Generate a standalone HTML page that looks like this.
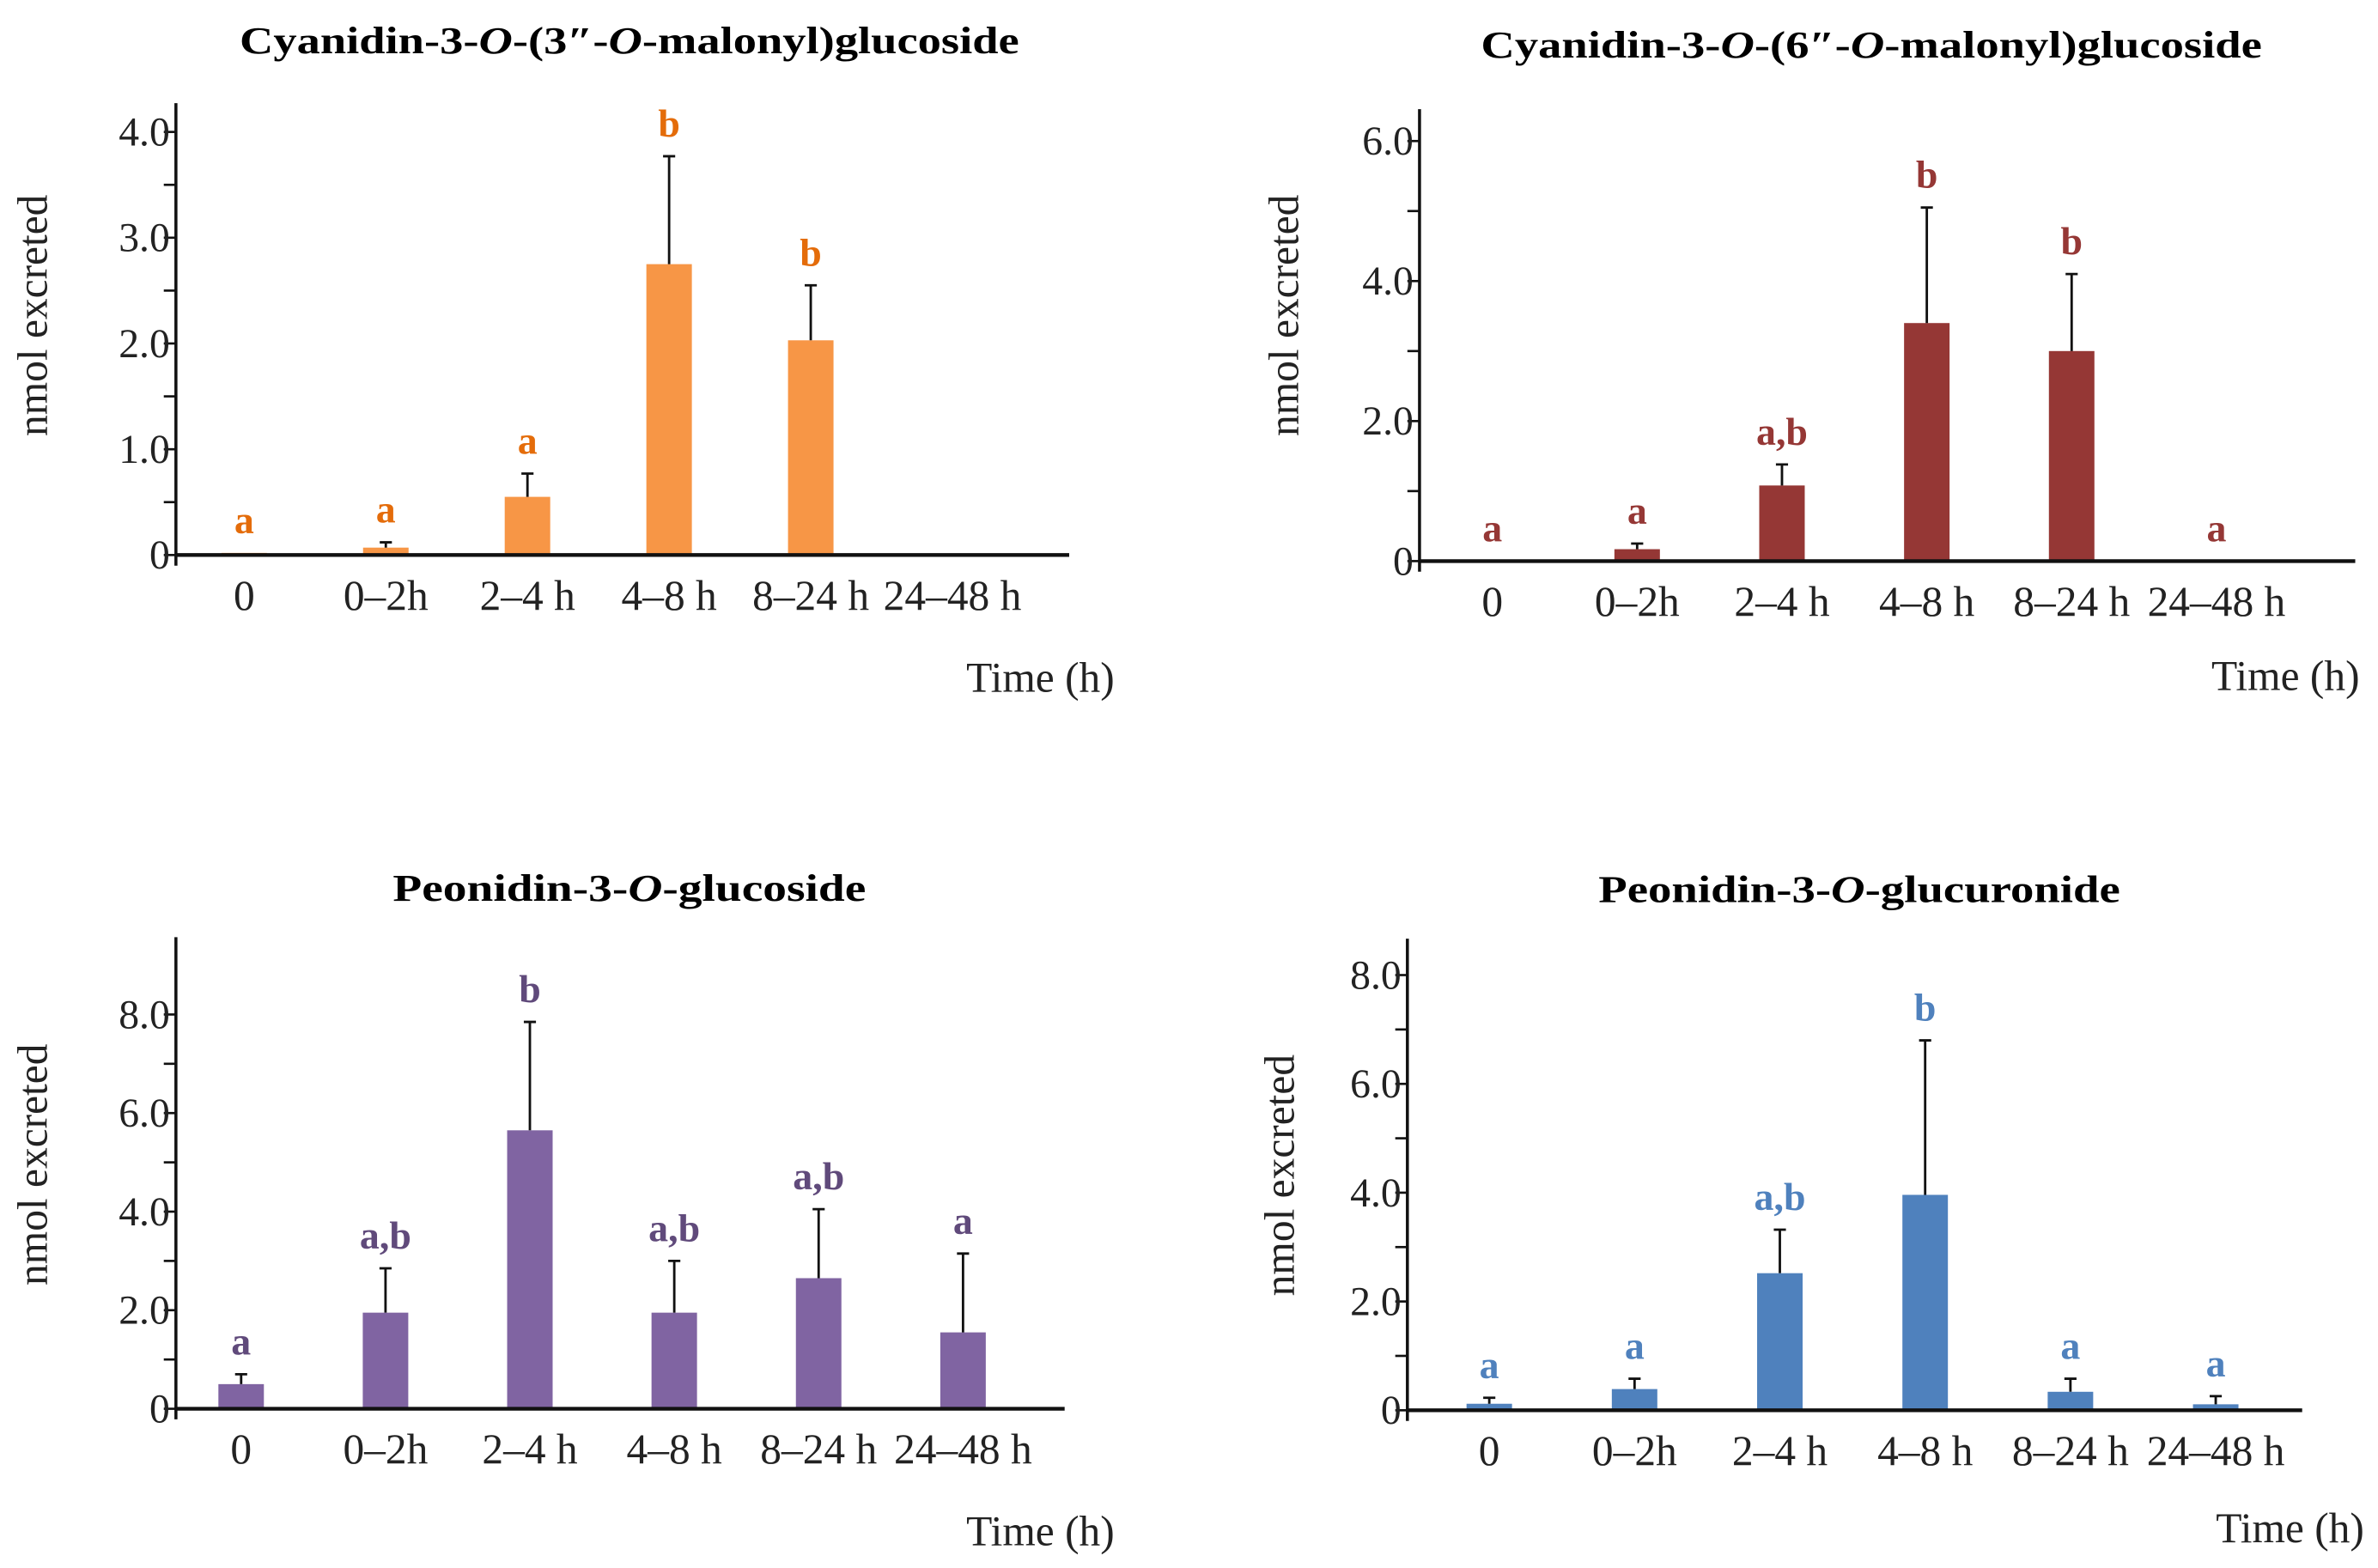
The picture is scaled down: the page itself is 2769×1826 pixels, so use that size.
<!DOCTYPE html>
<html><head><meta charset="utf-8"><style>
html,body{margin:0;padding:0;background:#fff;}
svg{display:block;}
text{font-family:"Liberation Serif",serif;}
</style></head><body>
<svg id="fig" width="2769" height="1826" viewBox="0 0 1568 1034" xmlns="http://www.w3.org/2000/svg">
<rect width="1568" height="1034" fill="#fff"/>
<text x="415" y="35" text-anchor="middle" font-weight="bold" font-size="25" textLength="514" lengthAdjust="spacingAndGlyphs">Cyanidin-3-<tspan font-style="italic">O</tspan>-(3″-<tspan font-style="italic">O</tspan>-malonyl)glucoside</text>
<text x="1234" y="38" text-anchor="middle" font-weight="bold" font-size="25" textLength="515" lengthAdjust="spacingAndGlyphs">Cyanidin-3-<tspan font-style="italic">O</tspan>-(6″-<tspan font-style="italic">O</tspan>-malonyl)glucoside</text>
<text x="415" y="594" text-anchor="middle" font-weight="bold" font-size="25" textLength="312" lengthAdjust="spacingAndGlyphs">Peonidin-3-<tspan font-style="italic">O</tspan>-glucoside</text>
<text x="1226" y="595" text-anchor="middle" font-weight="bold" font-size="25" textLength="344" lengthAdjust="spacingAndGlyphs">Peonidin-3-<tspan font-style="italic">O</tspan>-glucuronide</text>
</svg>
<script>
const categories = ["0","0–2h","2–4 h","4–8 h","8–24 h","24–48 h"];
const c3Values = [0.02,0.07,0.55,2.75,2.03,0];
const c3Errors = [0.02,0.12,0.77,3.77,2.55,0];
const c3Letters = ["a","a","a","b","b",""];
const c3Ticks = ["0","1.0","2.0","3.0","4.0"];
const c6Values = [0,0.17,1.08,3.4,3.0,0];
const c6Errors = [0,0.25,1.38,5.05,4.1,0];
const c6Letters = ["a","a","a,b","b","b","a"];
const c6Ticks = ["0","2.0","4.0","6.0"];
const p3gValues = [0.5,1.95,5.65,1.95,2.65,1.55];
const p3gErrors = [0.7,2.85,7.85,3.0,4.05,3.15];
const p3gLetters = ["a","a,b","b","a,b","a,b","a"];
const p3gTicks = ["0","2.0","4.0","6.0","8.0"];
const p3guValues = [0.12,0.39,2.52,3.96,0.34,0.11];
const p3guErrors = [0.23,0.58,3.32,6.8,0.58,0.26];
const p3guLetters = ["a","a","a,b","b","a","a"];
const p3guTicks = ["0","2.0","4.0","6.0","8.0"];

const NS="http://www.w3.org/2000/svg";
const svg=document.getElementById('fig');
function mk(tag,attrs,parent){const e=document.createElementNS(NS,tag);for(const k in attrs)e.setAttribute(k,attrs[k]);(parent||svg).appendChild(e);return e;}

function panel(id,L,vals,errs,letters,ticks){
  const g=mk('g',{});
  
  
  const y=v=>L.base-(v/L.max)*(L.base-L.topTick);
  const x=i=>L.c0+i*L.step;
  const ya=mk('line',{x1:L.ax,y1:L.top,x2:L.ax,y2:L.base+7,stroke:'#111','stroke-width':2},g);
  
  
  for(let v=0;v<=L.max+1e-9;v+=L.minor){
    const t=mk('line',{x1:L.ax-8,y1:y(v),x2:L.ax,y2:y(v),stroke:'#111','stroke-width':1.5},g);
    
    
  }
  ticks.forEach((lab,i)=>{
    const v=i*L.major;
    const t=mk('text',{x:L.ax-4,y:y(v)+9,'text-anchor':'end','font-size':27,fill:'#222'},g);
    t.textContent=lab;
    
    
  });
  vals.forEach((v,i)=>{
    const cx=x(i);
    if(v>0){
      const b=mk('rect',{x:cx-15,y:y(v),width:30,height:L.base-y(v),fill:L.color},g);
      
      
    }
    const e=errs[i];
    if(e>0 && e>v){
      const el=mk('path',{d:`M${cx},${y(v)}V${y(e)}M${cx-4},${y(e)}H${cx+4}`,stroke:'#111','stroke-width':1.6,fill:'none'},g);
      
      
    }
    if(letters[i]){
      const ly=Math.min(y(Math.max(e,v)),L.base)-13;
      const t=mk('text',{x:cx,y:ly,'text-anchor':'middle','font-size':26,'font-weight':'bold',fill:L.lcolor},g);
      t.textContent=letters[i];
      
      
    }
    const xl=mk('text',{x:cx+(i==5?L.lastShift:0),y:L.base+36,'text-anchor':'middle','font-size':28,fill:'#222'},g);
    xl.textContent=categories[i];
    
    
  });
  const xa=mk('line',{x1:L.ax,y1:L.base,x2:L.xend,y2:L.base,stroke:'#111','stroke-width':2.5},g);
  
  
  const xt=mk('text',{x:L.timeX,y:L.timeY,'text-anchor':'middle','font-size':28,fill:'#222'},g);
  xt.textContent='Time (h)';
  
  
  const yt=mk('text',{x:0,y:0,transform:`translate(${L.ylx},${L.yly}) rotate(-90)`,'text-anchor':'middle','font-size':28,fill:'#222'},g);
  yt.textContent='nmol excreted';
  
  
}
panel('c3mg',{ax:116,top:68,base:366,topTick:87,max:4,major:1,minor:0.5,c0:161,step:93.4,xend:705,color:'#F79646',lcolor:'#E46C0A',timeX:686,timeY:456,ylx:31,yly:208,lastShift:0},c3Values,c3Errors,c3Letters,c3Ticks);
panel('c6mg',{ax:936,top:72,base:370,topTick:93,max:6,major:2,minor:1,c0:984,step:95.5,xend:1553,color:'#953735',lcolor:'#953735',timeX:1507,timeY:455,ylx:856,yly:208,lastShift:0},c6Values,c6Errors,c6Letters,c6Ticks);
panel('p3g',{ax:116,top:618,base:929,topTick:669,max:8,major:2,minor:1,c0:159,step:95.2,xend:702,color:'#8064A2',lcolor:'#604A7B',timeX:686,timeY:1019,ylx:31,yly:768,lastShift:0},p3gValues,p3gErrors,p3gLetters,p3gTicks);
panel('p3gu',{ax:928,top:619,base:930,topTick:643,max:8,major:2,minor:1,c0:982,step:95.8,xend:1518,color:'#4F81BD',lcolor:'#4F81BD',timeX:1510,timeY:1017,ylx:853,yly:775,lastShift:0},p3guValues,p3guErrors,p3guLetters,p3guTicks);
</script>
</body></html>
